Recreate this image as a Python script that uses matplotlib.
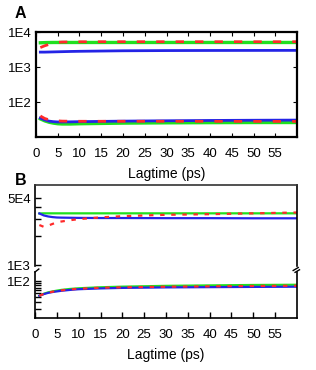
import matplotlib
matplotlib.use('Agg')
import matplotlib.pyplot as plt
from matplotlib.ticker import FixedLocator, NullFormatter, LogLocator

plt.rcParams['font.family'] = ['Liberation Sans', 'DejaVu Sans']

# ---------------- data ----------------
lag = [1, 2, 3, 4, 5, 6, 8, 10, 15, 20, 30, 40, 50, 60]

A_green_hi = [5000, 5050, 5080, 5100, 5100, 5100, 5100, 5100, 5100, 5100, 5100, 5100, 5100, 5100]
A_red_hi = [3650, 4100, 4500, 4850, 5150, 5250, 5300, 5330, 5350, 5350, 5350, 5350, 5350, 5350]
A_blue_hi = [2700, 2700, 2720, 2740, 2760, 2780, 2820, 2850, 2900, 2950, 2990, 3010, 3020, 3030]
A_green_lo = [33, 29, 26.5, 25, 24, 23.6, 23.6, 24, 24.5, 25, 25.5, 25.8, 26, 26]
A_red_lo = [40, 34, 31, 30, 29, 28.5, 28.3, 28.2, 28.2, 28.2, 28.2, 28.1, 28, 28]
A_blue_lo = [35, 31, 28.5, 27.5, 27, 27, 27.2, 27.5, 28, 28.5, 29.2, 29.8, 30.2, 30.5]

B_green_hi = [34600, 34700, 34700, 34700, 34700, 34700, 34700, 34700, 34700, 34700, 34700, 34700, 34700, 34700]
B_blue_hi = [34600, 33000, 32200, 31700, 31400, 31300, 31200, 31100, 31000, 31000, 30900, 30900, 30800, 30800]
B_red_hi = [26200, 25100, 25800, 26900, 27900, 28500, 29400, 30200, 31500, 32400, 33500, 34000, 34700, 35400]
B_green_lo = [43.6, 49, 53, 56, 58.5, 61, 64.5, 67, 71, 73.5, 77, 79, 81, 82]
B_red_lo = [43.6, 48.5, 52, 55, 57.2, 59.5, 62.8, 65.3, 69.2, 70.8, 73.3, 75, 76.5, 77.6]
B_blue_lo = [43.6, 48, 51.5, 54, 56, 58, 61, 63.5, 66.5, 68.5, 70.5, 71.5, 72.5, 73.3]

xticks = [0, 5, 10, 15, 20, 25, 30, 35, 40, 45, 50, 55]

GREEN = '#1fe01f'
BLUE = '#2424e6'
RED = '#ff2a2a'

TICK_FS = 9.5
LABEL_FS = 10

fig = plt.figure(figsize=(3.16, 3.70), dpi=100)

# ---------------- panel A ----------------
axA = fig.add_axes([0.1139, 0.6297, 0.826, 0.2851])
axA.plot(lag, A_green_hi, color=GREEN, lw=2.4)
axA.plot(lag, A_green_lo, color=GREEN, lw=2.4)
axA.plot(lag, A_blue_hi, color=BLUE, lw=2.0)
axA.plot(lag, A_blue_lo, color=BLUE, lw=2.0)
axA.plot(lag, A_red_hi, color=RED, lw=2.0, ls=(0, (3, 4)))
axA.plot(lag, A_red_lo, color=RED, lw=2.0, ls=(0, (3, 4)))
axA.set_yscale('log')
axA.set_ylim(10, 1.05e4)
axA.set_xlim(0, 60)
axA.yaxis.set_major_locator(FixedLocator([1e2, 1e3, 1e4]))
axA.set_yticklabels(['1E2', '1E3', '1E4'])
axA.yaxis.set_minor_locator(LogLocator(base=10, subs=range(2, 10)))
axA.yaxis.set_minor_formatter(NullFormatter())
axA.set_xticks(xticks)
axA.set_xticklabels([str(t) for t in xticks])
axA.tick_params(axis='both', which='major', direction='in', top=True, right=True,
                length=3, width=0.8, labelsize=TICK_FS, pad=3)
axA.tick_params(axis='x', which='major', pad=8)
axA.tick_params(axis='y', which='minor', direction='in', left=True, right=True,
                length=1.5, width=0.6)
for s in axA.spines.values():
    s.set_linewidth(1.6)
axA.set_xlabel('Lagtime (ps)', fontsize=LABEL_FS, labelpad=5)
fig.text(0.065, 0.964, 'A', fontsize=11.5, fontweight='bold', ha='center', va='center')

# ---------------- panel B ----------------
axBu = fig.add_axes([0.1108, 0.2811, 0.829, 0.2197])
axBl = fig.add_axes([0.1108, 0.1397, 0.829, 0.1251])

axBu.plot(lag, B_green_hi, color=GREEN, lw=1.6)
axBu.plot(lag, B_blue_hi, color=BLUE, lw=1.6)
axBu.plot(lag, B_red_hi, color=RED, lw=1.6, ls=(0, (2, 3)))
axBl.plot(lag, B_green_lo, color=GREEN, lw=1.6)
axBl.plot(lag, B_blue_lo, color=BLUE, lw=1.6)
axBl.plot(lag, B_red_lo, color=RED, lw=1.6, ls=(0, (2, 3)))

axBu.set_yscale('log')
axBu.set_ylim(9.8e3, 6.9e4)
axBu.set_xlim(0, 60)
axBu.yaxis.set_major_locator(FixedLocator([1e4, 2e4, 3e4, 4e4, 5e4]))
axBu.set_yticklabels(['1E3', '', '', '', '5E4'])
axBu.yaxis.set_minor_locator(FixedLocator([]))
axBu.set_xticks([])
axBu.spines['bottom'].set_visible(False)
axBu.tick_params(axis='y', which='major', direction='in', length=4.5, width=1.0,
                 labelsize=TICK_FS, pad=3)

axBl.set_yscale('log')
axBl.set_ylim(12, 170)
axBl.set_xlim(0, 60)
axBl.yaxis.set_major_locator(FixedLocator([1e2]))
axBl.set_yticklabels(['1E2'])
axBl.yaxis.set_minor_locator(FixedLocator([20, 30, 40, 50, 60, 70, 80, 90]))
axBl.yaxis.set_minor_formatter(NullFormatter())
axBl.spines['top'].set_visible(False)
axBl.set_xticks(xticks)
axBl.set_xticklabels([str(t) for t in xticks])
axBl.tick_params(axis='y', which='both', direction='in', length=4.5, width=1.0,
                 labelsize=TICK_FS, pad=3)
axBl.tick_params(axis='x', which='major', direction='in', length=4.5, width=1.0,
                 labelsize=TICK_FS, pad=8)
axBl.set_xlabel('Lagtime (ps)', fontsize=LABEL_FS, labelpad=5)

for ax in (axBu, axBl):
    for s in ax.spines.values():
        s.set_linewidth(1.2)
    ax.spines['top'].set_color('#333333')

# break marks
xl = 0.1108
xr = 0.1108 + 0.829
yt = 0.2649
fig.lines.append(plt.Line2D([xl, xl + 0.012], [yt, yt + 0.008], color='k', lw=1.0, transform=fig.transFigure))
fig.lines.append(plt.Line2D([xr - 0.012, xr + 0.004], [yt + 0.004, yt + 0.012], color='k', lw=1.0, transform=fig.transFigure))
fig.lines.append(plt.Line2D([xr - 0.006, xr + 0.008], [yt - 0.001, yt + 0.006], color='k', lw=1.0, transform=fig.transFigure))

fig.text(0.065, 0.511, 'B', fontsize=11.5, fontweight='bold', ha='center', va='center')

fig.savefig('out.png', dpi=100)
